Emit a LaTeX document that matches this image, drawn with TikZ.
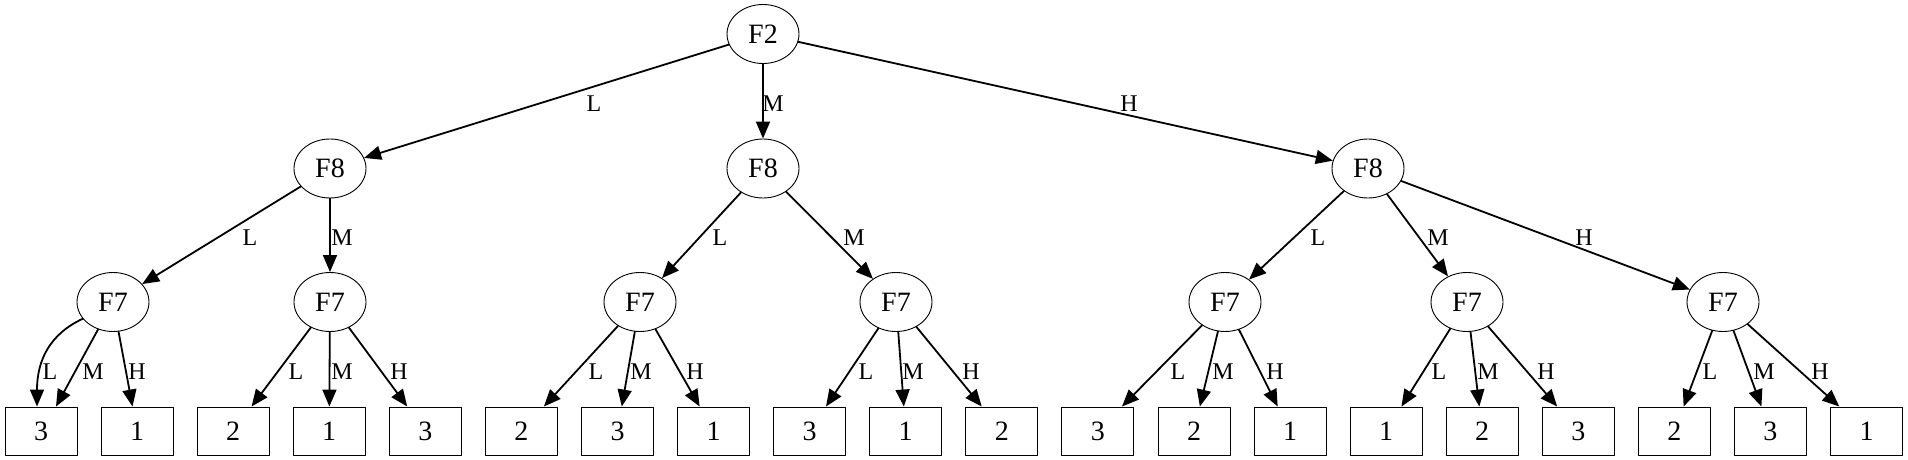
\documentclass[tikz,border=0pt]{standalone}
\usepackage{fontspec}
\setmainfont{Liberation Serif}
\usetikzlibrary{arrows.meta,shapes.geometric}

\begin{document}
\begin{tikzpicture}[line cap=round,line join=round,>={Triangle[length=8.5pt,width=7pt]},x=0.5pt,y=-0.5pt,
  fnode/.style={draw,ellipse,line width=0.45pt,minimum width=36pt,minimum height=29.5pt,inner sep=0pt,font=\fontsize{14}{16}\selectfont},
  leaf/.style={draw,rectangle,line width=0.45pt,minimum width=36pt,minimum height=24pt,inner sep=0pt,font=\fontsize{14}{16}\selectfont},
  branch/.style={->,line width=0.9pt},
  lab/.style={inner sep=0pt,font=\fontsize{12}{14}\selectfont}]
\useasboundingbox (0,0) rectangle (1908,460);

% root and second level
\node[fnode] (f2) at (763,34) {F2};
\node[fnode] (f8l) at (330,168.5) {F8};
\node[fnode] (f8m) at (763,168.5) {F8};
\node[fnode] (f8h) at (1368,168.5) {F8};

% third level
\node[fnode] (f7a) at (113,302) {F7};
\node[fnode] (f7b) at (330,302) {F7};
\node[fnode] (f7c) at (640,302) {F7};
\node[fnode] (f7d) at (896,302) {F7};
\node[fnode] (f7e) at (1225,302) {F7};
\node[fnode] (f7f) at (1467,302) {F7};
\node[fnode] (f7g) at (1723,302) {F7};

% leaves
\node[leaf] (r0) at (41,431) {3};
\node[leaf] (r1) at (137.1,431) {1};
\node[leaf] (r2) at (233.2,431) {2};
\node[leaf] (r3) at (329.2,431) {1};
\node[leaf] (r4) at (425.3,431) {3};
\node[leaf] (r5) at (521.4,431) {2};
\node[leaf] (r6) at (617.5,431) {3};
\node[leaf] (r7) at (713.6,431) {1};
\node[leaf] (r8) at (809.6,431) {3};
\node[leaf] (r9) at (905.7,431) {1};
\node[leaf] (r10) at (1001.8,431) {2};
\node[leaf] (r11) at (1097.9,431) {3};
\node[leaf] (r12) at (1194,431) {2};
\node[leaf] (r13) at (1290,431) {1};
\node[leaf] (r14) at (1386.1,431) {1};
\node[leaf] (r15) at (1482.2,431) {2};
\node[leaf] (r16) at (1578.3,431) {3};
\node[leaf] (r17) at (1674.4,431) {2};
\node[leaf] (r18) at (1770.4,431) {3};
\node[leaf] (r19) at (1866.5,431) {1};

% F2
\draw[branch] (f2) -- (f8l) node[lab] at (594,104) {L};
\draw[branch] (f2) -- (f8m) node[lab] at (773,104) {M};
\draw[branch] (f2) -- (f8h) node[lab] at (1129,104) {H};

% F8
\draw[branch] (f8l) -- (f7a) node[lab] at (250,238) {L};
\draw[branch] (f8l) -- (f7b) node[lab] at (342,238) {M};
\draw[branch] (f8m) -- (f7c) node[lab] at (720,238) {L};
\draw[branch] (f8m) -- (f7d) node[lab] at (854,238) {M};
\draw[branch] (f8h) -- (f7e) node[lab] at (1318,238) {L};
\draw[branch] (f8h) -- (f7f) node[lab] at (1438,238) {M};
\draw[branch] (f8h) -- (f7g) node[lab] at (1584,238) {H};

% F7
\draw[branch] (f7a.209) .. controls (50,334) and (37,360) .. ([xshift=-2pt]r0.north) node[lab] at (50,372) {L};
\draw[branch] (f7a) -- ([xshift=7.5pt]r0.north) node[lab] at (93,372) {M};
\draw[branch] (f7a) -- (r1) node[lab] at (137,372) {H};

\draw[branch] (f7b) -- (r2) node[lab] at (296,372) {L};
\draw[branch] (f7b) -- (r3) node[lab] at (342,372) {M};
\draw[branch] (f7b) -- (r4) node[lab] at (399,372) {H};

\draw[branch] (f7c) -- (r5) node[lab] at (596,372) {L};
\draw[branch] (f7c) -- (r6) node[lab] at (641,372) {M};
\draw[branch] (f7c) -- (r7) node[lab] at (695,372) {H};

\draw[branch] (f7d) -- (r8) node[lab] at (866,372) {L};
\draw[branch] (f7d) -- (r9) node[lab] at (913,372) {M};
\draw[branch] (f7d) -- (r10) node[lab] at (971,372) {H};

\draw[branch] (f7e) -- (r11) node[lab] at (1178,372) {L};
\draw[branch] (f7e) -- (r12) node[lab] at (1223,372) {M};
\draw[branch] (f7e) -- (r13) node[lab] at (1275,372) {H};

\draw[branch] (f7f) -- (r14) node[lab] at (1439,372) {L};
\draw[branch] (f7f) -- (r15) node[lab] at (1488,372) {M};
\draw[branch] (f7f) -- (r16) node[lab] at (1546,372) {H};

\draw[branch] (f7g) -- (r17) node[lab] at (1710,372) {L};
\draw[branch] (f7g) -- (r18) node[lab] at (1764,372) {M};
\draw[branch] (f7g) -- (r19) node[lab] at (1820,372) {H};

\end{tikzpicture}
\end{document}
